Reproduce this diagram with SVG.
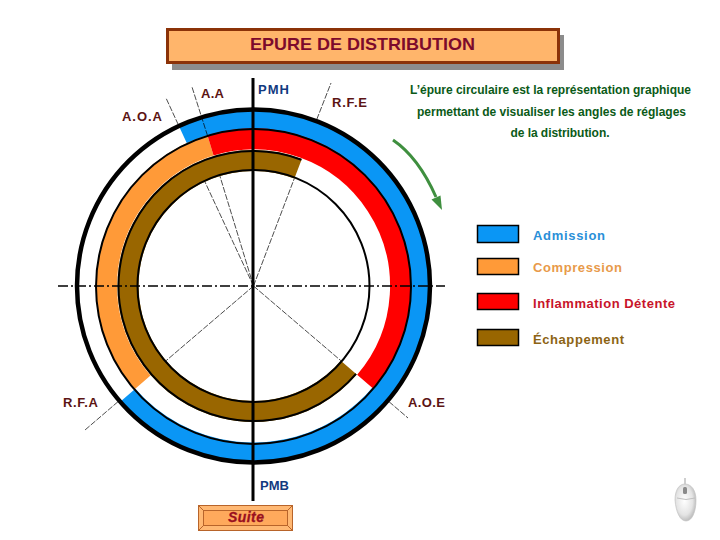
<svg xmlns="http://www.w3.org/2000/svg" width="720" height="540" viewBox="0 0 720 540">
<defs>
<style>
text{font-family:"Liberation Sans",Arial,sans-serif;font-weight:bold}
.arc{fill:none}
.k{fill:none;stroke:#000;stroke-width:2}
.thin{stroke:#000;stroke-width:.7;stroke-dasharray:6 1.5;fill:none}
.lab{font-size:13px;fill:#5c1414}
.pm{font-size:13px;fill:#123a80}
.note{font-size:12px;fill:#0b5a18;text-anchor:middle}
.leg{font-size:13px}
.sw{stroke:#000;stroke-width:1.5}
</style>
<radialGradient id="mg" cx="45%" cy="45%" r="65%"><stop offset="0" stop-color="#fff"/><stop offset=".6" stop-color="#e4e4e4"/><stop offset="1" stop-color="#a8a8a8"/></radialGradient>
</defs>
<rect width="720" height="540" fill="#fff"/>
<g id="title">
<rect x="172" y="35" width="392" height="35" fill="#8c8c8c"/>
<rect x="167.500" y="29.500" width="391" height="33" fill="#ffb56b" stroke="#8b3208" stroke-width="3"/>
<text x="250" y="50" font-size="17" fill="#7d0a2c" textLength="225" lengthAdjust="spacingAndGlyphs">EPURE DE DISTRIBUTION</text>
</g>
<g id="connectors">
<path class="thin" d="M253.500 286L204.900 181.800M178.300 124.700L166 98"/>
<path class="thin" d="M253.500 286L219.900 176"/>
<path class="thin" d="M253.500 286L294.300 178.500M316.700 119.600L331 83"/>
<path class="thin" d="M253.500 286L166.100 360.700M118.100 401.600L85 430"/>
<path class="thin" d="M253.500 286L340.900 360.700M388.900 401.600L408 418"/>
</g>
<g id="ring-admission"><path class="arc" stroke="#0a96f5" stroke-width="20" d="M183.100 135.100A166.500 166.500 0 1 1 127.800 395.200"/></g>
<g id="ring-compression"><path class="arc" stroke="#ff9a38" stroke-width="21" d="M142.600 382.400A147 147 0 0 1 210.500 145.400"/></g>
<g id="ring-inflammation"><path class="arc" stroke="#ff0000" stroke-width="21" d="M210.500 145.400A147 147 0 0 1 365.100 381.700"/></g>
<g id="ring-echappement"><path class="arc" stroke="#996600" stroke-width="21" d="M348.800 367.700A125.500 125.500 0 1 1 298.100 168.700"/></g>
<g id="circles">
<circle class="k" style="stroke-width:4.500" cx="253.500" cy="286" r="176.500"/>
<circle class="k" cx="253.500" cy="286.500" r="157.500"/>
<circle class="k" cx="253.500" cy="286" r="116"/>
<path class="k" d="M356 373.900A135 135 0 1 1 301.400 159.800"/>
</g>
<g id="axes">
<path class="thin" d="M207.600 135.900L192 87"/>
<line x1="253" y1="78" x2="253" y2="501" stroke="#000" stroke-width="3"/>
<line x1="58" y1="286" x2="445" y2="286" stroke="#000" stroke-width="1.500" stroke-dasharray="10 3 2 3"/>
</g>
<g id="labels">
<text class="lab" x="201" y="98" textLength="23">A.A</text>
<text class="pm" x="258" y="94" textLength="31">PMH</text>
<text class="lab" x="332" y="107" textLength="35">R.F.E</text>
<text class="lab" x="122" y="121" textLength="40">A.O.A</text>
<text class="lab" x="63" y="407" textLength="35">R.F.A</text>
<text class="lab" x="408" y="407" textLength="37">A.O.E</text>
<text class="pm" x="260" y="490" textLength="29">PMB</text>
</g>
<g id="note">
<text class="note" x="550.500" y="94" textLength="281">L’épure circulaire est la représentation graphique</text>
<text class="note" x="551.500" y="116" textLength="269">permettant de visualiser les angles de réglages</text>
<text class="note" x="560" y="137" textLength="99">de la distribution.</text>
</g>
<g id="rotation-arrow">
<path d="M393 140C412 153 425 172 436 197" fill="none" stroke="#3f8f3f" stroke-width="3"/>
<path d="M442 210L431.500 199.500L440.500 195.500Z" fill="#3f8f3f"/>
</g>
<g id="legend-admission"><rect class="sw" x="477.500" y="225.500" width="41" height="17" fill="#0a96f5"/><text class="leg" x="533" y="240" fill="#2a8fd8" textLength="72">Admission</text></g>
<g id="legend-compression"><rect class="sw" x="477.500" y="258.500" width="41" height="16" fill="#ff9a38"/><text class="leg" x="533" y="272" fill="#e89a4a" textLength="89">Compression</text></g>
<g id="legend-inflammation"><rect class="sw" x="477.500" y="293.500" width="41" height="16" fill="#ff0000"/><text class="leg" x="533" y="308" fill="#c8142a" textLength="142">Inflammation Détente</text></g>
<g id="legend-echappement"><rect class="sw" x="477.500" y="329.500" width="41" height="16" fill="#996600"/><text class="leg" x="533" y="344" fill="#8c6414" textLength="91">Échappement</text></g>
<g id="suite">
<rect x="198.500" y="505.500" width="94" height="25" fill="#ffb873" stroke="#b8642a"/>
<rect x="203.500" y="510.500" width="84" height="15" fill="#ffa95c" stroke="#b8642a"/>
<path d="M198.500 505.500L203.500 510.500M292.500 505.500L287.500 510.500M198.500 530.500L203.500 525.500M292.500 530.500L287.500 525.500" stroke="#b8642a"/>
<text x="228" y="522" font-size="14" font-style="italic" font-weight="normal" fill="#9a1020" stroke="#9a1020" stroke-width=".3" textLength="36">Suite</text>
</g>
<g id="mouse">
<path d="M685 478V486" stroke="#cfcfcf" stroke-width="2"/>
<path d="M685 484C691 484 696 490 696 500C696 512 692 521 686 521C680 521 676 512 675 500C675 490 679 484 685 484Z" fill="url(#mg)" stroke="#c4c4c4" stroke-width=".7"/>
<rect x="683" y="487" width="4" height="7" rx="1.500" fill="#8a8a8a"/>
<path d="M677 498Q686 501 695 498" fill="none" stroke="#c0c0c0"/>
</g>
</svg>
